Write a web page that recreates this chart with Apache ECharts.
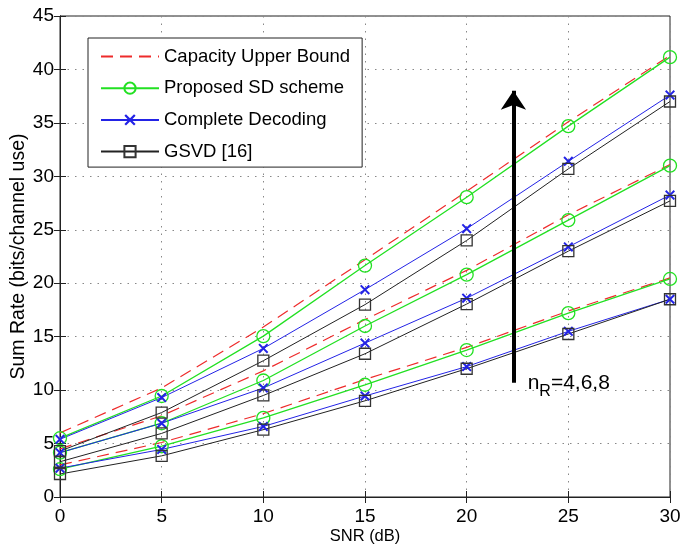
<!DOCTYPE html>
<html>
<head>
<meta charset="utf-8">
<script src="https://cdn.jsdelivr.net/npm/echarts@6/dist/echarts.min.js"></script>
<style>
  html, body { margin: 0; padding: 0; background: #fff; }
  #main { width: 681px; height: 546px; }
</style>
</head>
<body>
<div id="main"></div>
<script>
// SNR (dB) on x
var snr = [0, 5, 10, 15, 20, 25, 30];
var names = ['Capacity Upper Bound', 'Proposed SD scheme', 'Complete Decoding', 'GSVD [16]'];

// nR = 8
var cap8  = [6.0, 10.2, 15.9, 22.2, 28.6, 35.1, 41.3];
var sd8   = [5.5, 9.45, 15.05, 21.65, 28.05, 34.7, 41.15];
var cd8   = [5.4, 9.3, 13.9, 19.4, 25.1, 31.4, 37.6];
var gsvd8 = [4.3, 7.9, 12.75, 18.0, 24.0, 30.7, 37.0];
// nR = 6
var cap6  = [4.5, 7.6, 11.8, 16.6, 21.2, 26.4, 31.1];
var sd6   = [4.15, 6.9, 10.9, 16.0, 20.8, 25.9, 31.0];
var cd6   = [4.15, 6.9, 10.2, 14.4, 18.6, 23.4, 28.25];
var gsvd6 = [3.3, 5.95, 9.5, 13.4, 18.05, 23.0, 27.7];
// nR = 4
var cap4  = [3.0, 5.1, 7.8, 11.0, 14.0, 17.4, 20.5];
var sd4   = [2.6, 4.75, 7.4, 10.5, 13.75, 17.2, 20.4];
var cd4   = [2.7, 4.45, 6.6, 9.45, 12.2, 15.5, 18.5];
var gsvd4 = [2.15, 3.85, 6.3, 9.0, 12.0, 15.25, 18.5];

// arrow and its text (data coords)
var arrowX = 22.3, arrowFrom = 10.7, arrowTo = 38.0;
var noteAt = [23.0, 10.6];

var font = 'Liberation Sans, Arial, Helvetica, sans-serif';
var RED = '#ee2b2b', GREEN = '#22e022', BLUE = '#2323e6', BLACK = '#222';
var xPath = 'path://M0,1.4L1.4,0L5,3.6L8.6,0L10,1.4L6.4,5L10,8.6L8.6,10L5,6.4L1.4,10L0,8.6L3.6,5Z';

function pairs(ys) {
  return snr.map(function (x, i) { return [x, ys[i]]; });
}

var styles = [
  { symbol: 'none', lineStyle: { color: RED, width: 1.2, type: [12, 7] }, itemStyle: { color: RED } },
  { symbol: 'circle', symbolSize: 13, lineStyle: { color: GREEN, width: 1.3 },
    itemStyle: { color: 'transparent', borderColor: GREEN, borderWidth: 1.3 } },
  { symbol: xPath, symbolSize: 10, lineStyle: { color: BLUE, width: 1 }, itemStyle: { color: BLUE } },
  { symbol: 'rect', symbolSize: 11, lineStyle: { color: BLACK, width: 1 },
    itemStyle: { color: 'transparent', borderColor: '#333', borderWidth: 1.3 } }
];

var groups = [[cap4, sd4, cd4, gsvd4], [cap6, sd6, cd6, gsvd6], [cap8, sd8, cd8, gsvd8]];
var series = [];
groups.forEach(function (g) {
  g.forEach(function (ys, k) {
    var s = styles[k];
    series.push({
      name: names[k], type: 'line', data: pairs(ys),
      symbol: s.symbol, symbolSize: s.symbolSize, showSymbol: s.symbol !== 'none',
      lineStyle: s.lineStyle, itemStyle: s.itemStyle, emphasis: { disabled: true }
    });
  });
});

series.push({
  type: 'line', data: [], silent: true,
  markLine: {
    silent: true, animation: false,
    symbol: ['none', 'arrow'], symbolSize: 19,
    lineStyle: { color: '#000', width: 4, type: 'solid' },
    label: { show: false },
    data: [[{ coord: [arrowX, arrowFrom] }, { coord: [arrowX, arrowTo] }]]
  },
  markPoint: {
    silent: true, symbol: 'circle', symbolSize: 0,
    label: {
      show: true, position: 'right', distance: 0,
      formatter: '{n|n}{s|R}{n|=4,6,8}',
      rich: {
        n: { fontSize: 21, fontFamily: font, color: '#000' },
        s: { fontSize: 16, fontFamily: font, color: '#000', padding: [16, 0, 0, 0] }
      }
    },
    data: [{ coord: noteAt }]
  }
});

var legendData = names.map(function (n, k) {
  return k === 0 ? { name: n, itemStyle: { color: 'transparent', borderWidth: 0 } } : { name: n };
});

var chart = echarts.init(document.getElementById('main'));
var split = { show: true, lineStyle: { color: '#888', width: 1, type: [1.5, 6] } };
chart.setOption({
  animation: false,
  backgroundColor: '#fff',
  grid: {
    left: 60, right: 11, top: 16, bottom: 49, outerBoundsMode: 'none', containLabel: false,
    show: true, borderColor: '#222', borderWidth: 1
  },
  legend: {
    data: legendData, orient: 'vertical', left: 88, top: 38,
    padding: [9, 12, 6, 12], itemWidth: 58, itemHeight: 14, itemGap: 12.7,
    borderColor: '#222', borderWidth: 1, backgroundColor: '#fff',
    textStyle: { fontSize: 18.5, fontFamily: font, color: '#000' },
    selectedMode: false
  },
  xAxis: [{
    type: 'value', min: 0, max: 30, interval: 5,
    name: 'SNR (dB)', nameLocation: 'middle', nameGap: 31, nameMoveOverlap: false,
    nameTextStyle: { fontSize: 16.5, fontFamily: font, color: '#000' },
    axisLine: { lineStyle: { color: '#222' } },
    axisTick: { inside: true, length: 6, lineStyle: { color: '#222' } },
    axisLabel: { fontSize: 19, fontFamily: font, color: '#000', margin: 10 },
    splitLine: split
  }, {
    type: 'value', position: 'top', min: 0, max: 30, interval: 5,
    axisLine: { lineStyle: { color: '#222' } },
    axisTick: { inside: true, length: 6, lineStyle: { color: '#222' } },
    axisLabel: { show: false }, splitLine: { show: false }
  }],
  yAxis: [{
    type: 'value', min: 0, max: 45, interval: 5,
    name: 'Sum Rate (bits/channel use)', nameLocation: 'middle', nameGap: 31, nameMoveOverlap: false,
    nameTextStyle: { fontSize: 19.5, fontFamily: font, color: '#000' },
    axisLine: { show: true, lineStyle: { color: '#222' } },
    axisTick: { show: true, inside: true, length: 6, lineStyle: { color: '#222' } },
    axisLabel: { fontSize: 19, fontFamily: font, color: '#000', margin: 6 },
    splitLine: split
  }, {
    type: 'value', position: 'right', min: 0, max: 45, interval: 5,
    axisLine: { show: true, lineStyle: { color: '#222' } },
    axisTick: { show: true, inside: true, length: 6, lineStyle: { color: '#222' } },
    axisLabel: { show: false }, splitLine: { show: false }
  }],
  series: series
});
</script>
</body>
</html>
